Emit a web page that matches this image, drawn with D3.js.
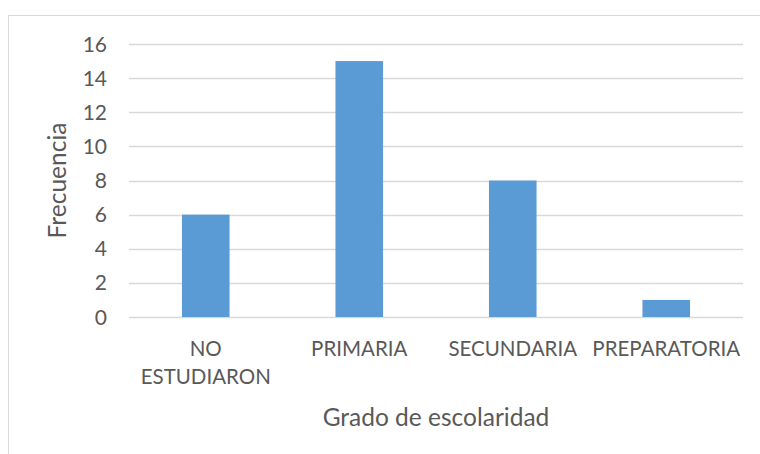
<!DOCTYPE html>
<html>
<head>
<meta charset="utf-8">
<script src="https://cdn.jsdelivr.net/npm/d3@7"></script>
<style>
	body { margin: 0; background: #fff; }
	svg text { font-family: Lato, "Open Sans", sans-serif; fill: #595959; }
</style>
</head>
<body>
<div class="chart"></div>
<script>
// data
const categories = ["NO ESTUDIARON", "PRIMARIA", "SECUNDARIA", "PREPARATORIA"];
const frequencies = [6, 15, 8, 1];
const yTicks = [0, 2, 4, 6, 8, 10, 12, 14, 16];
const xTitle = "Grado de escolaridad";
const yTitle = "Frecuencia";

(function () {

	const widthSVG = 760,
		heightSVG = 454;

	const plot = {left: 129, right: 743, top: 44, bottom: 317};

	const svg = d3.select(".chart").append("svg")
		.attr("width", widthSVG)
		.attr("height", heightSVG);

	svg.append("rect")
		.attr("width", widthSVG)
		.attr("height", heightSVG)
		.attr("fill", "#fff");

	// chart frame, cut off on the right and bottom in the original
	svg.append("rect")
		.attr("x", 8.5)
		.attr("y", 15.5)
		.attr("width", 800)
		.attr("height", 500)
		.attr("fill", "none")
		.attr("stroke", "#d9d9d9");

	const x = d3.scaleBand()
		.domain(categories)
		.range([plot.left, plot.right])
		.paddingInner(0.69)
		.paddingOuter(0.345);

	const y = d3.scaleLinear()
		.domain([0, 16])
		.range([plot.bottom, plot.top]);

	// gridlines
	svg.append("g")
		.selectAll("line")
		.data(yTicks)
		.enter().append("line")
		.attr("x1", plot.left)
		.attr("x2", plot.right)
		.attr("y1", function (d) { return Math.round(y(d)) + 0.5; })
		.attr("y2", function (d) { return Math.round(y(d)) + 0.5; })
		.attr("stroke", "#d9d9d9")
		.attr("stroke-width", 1.3);

	// y tick labels
	svg.append("g")
		.selectAll("text")
		.data(yTicks)
		.enter().append("text")
		.attr("x", 107)
		.attr("y", function (d) { return y(d); })
		.attr("dy", "0.36em")
		.attr("text-anchor", "end")
		.attr("font-size", 21)
		.text(function (d) { return d; });

	// bars
	svg.append("g")
		.selectAll("rect")
		.data(frequencies)
		.enter().append("rect")
		.attr("x", function (d, i) { return x(categories[i]); })
		.attr("y", function (d) { return y(d); })
		.attr("width", x.bandwidth())
		.attr("height", function (d) { return y(0) - y(d); })
		.attr("fill", "#5b9bd5");

	// category labels, wrapped like in the original
	const catLabel = svg.append("g")
		.selectAll("text")
		.data(categories)
		.enter().append("text")
		.attr("x", function (d) { return x(d) + x.bandwidth() / 2; })
		.attr("y", 356)
		.attr("text-anchor", "middle")
		.attr("font-size", 20.5);

	catLabel.each(function (d) {
		const words = d === "NO ESTUDIARON" ? ["NO", "ESTUDIARON"] : [d];
		const t = d3.select(this);
		words.forEach(function (w, i) {
			t.append("tspan")
				.attr("x", t.attr("x"))
				.attr("dy", i === 0 ? 0 : 28)
				.text(w);
		});
	});

	svg.append("text")
		.attr("x", (plot.left + plot.right) / 2)
		.attr("y", 426)
		.attr("text-anchor", "middle")
		.attr("font-size", 24.5)
		.text(xTitle);

	svg.append("text")
		.attr("transform", "translate(66," + ((plot.top + plot.bottom) / 2) + ") rotate(-90)")
		.attr("text-anchor", "middle")
		.attr("font-size", 24.5)
		.text(yTitle);

}());
</script>
</body>
</html>
